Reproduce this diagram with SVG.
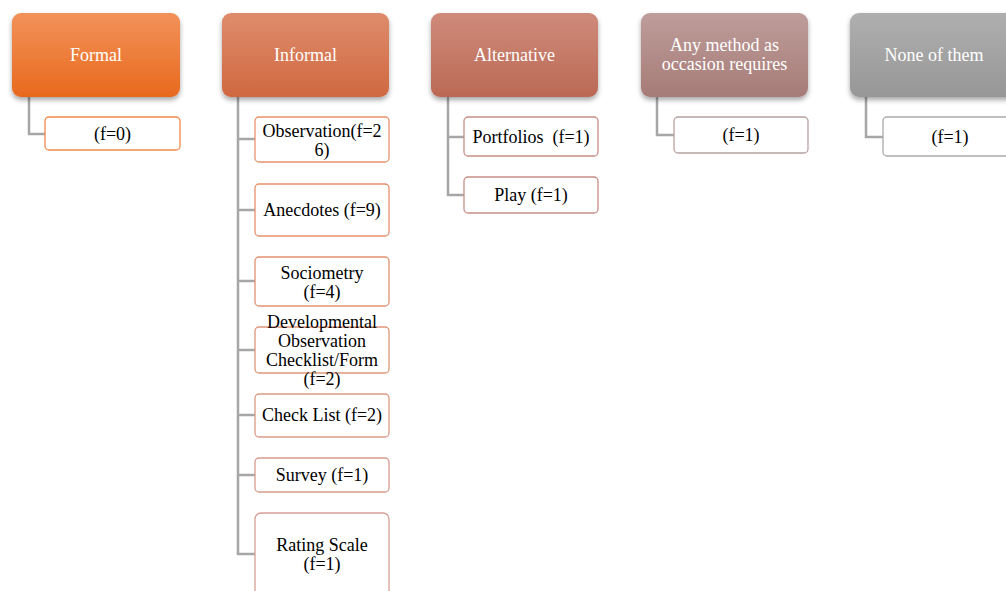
<svg xmlns="http://www.w3.org/2000/svg" width="1006" height="591" viewBox="0 0 1006 591">
<style>
.hdr{stroke:none}
.ht{font-family:"Liberation Serif","Times New Roman",serif;font-size:18px;fill:#ffffff;text-anchor:middle}
.ct{font-family:"Liberation Serif","Times New Roman",serif;font-size:18px;fill:#000000;text-anchor:middle}
.cb{fill:#ffffff;stroke-width:1.3}
.conn{fill:none;stroke:#A6A6A6;stroke-width:2.5}
</style>
<defs>
<linearGradient id="gF" x1="0" y1="0" x2="0" y2="1"><stop offset="0" stop-color="#F2925A"/><stop offset="1" stop-color="#E8691D"/></linearGradient>
<linearGradient id="gI" x1="0" y1="0" x2="0" y2="1"><stop offset="0" stop-color="#DF8C6C"/><stop offset="1" stop-color="#CF6840"/></linearGradient>
<linearGradient id="gA" x1="0" y1="0" x2="0" y2="1"><stop offset="0" stop-color="#CF8B7B"/><stop offset="1" stop-color="#BB6955"/></linearGradient>
<linearGradient id="gM" x1="0" y1="0" x2="0" y2="1"><stop offset="0" stop-color="#BE9D9A"/><stop offset="1" stop-color="#A67B77"/></linearGradient>
<linearGradient id="gN" x1="0" y1="0" x2="0" y2="1"><stop offset="0" stop-color="#AFAFAF"/><stop offset="1" stop-color="#979797"/></linearGradient>
<filter id="sh" x="-10%" y="-10%" width="120%" height="130%"><feDropShadow dx="0" dy="3" stdDeviation="2.5" flood-color="#000000" flood-opacity="0.35"/></filter>
</defs>

<g id="connectors">
<path class="conn" d="M29 97 V134 H45"/>
<path class="conn" d="M238 97 V554 H255 M238 139 H255 M238 210 H255 M238 281 H255 M238 350 H255 M238 415 H255 M238 475 H255"/>
<path class="conn" d="M448 97 V195 H464 M448 137 H464"/>
<path class="conn" d="M657 97 V135 H674"/>
<path class="conn" d="M866 97 V137 H883"/>
</g>

<g id="formal">
<rect class="hdr" x="12" y="13" width="168" height="84" rx="9" fill="url(#gF)" filter="url(#sh)"/>
<text class="ht" x="96" y="61">Formal</text>
</g>
<g id="informal">
<rect class="hdr" x="222" y="13" width="167" height="84" rx="9" fill="url(#gI)" filter="url(#sh)"/>
<text class="ht" x="305.5" y="61">Informal</text>
</g>
<g id="alternative">
<rect class="hdr" x="431" y="13" width="167" height="84" rx="9" fill="url(#gA)" filter="url(#sh)"/>
<text class="ht" x="514.5" y="61">Alternative</text>
</g>
<g id="anymethod">
<rect class="hdr" x="641" y="13" width="167" height="84" rx="9" fill="url(#gM)" filter="url(#sh)"/>
<text class="ht" x="724.5" y="51">Any method as</text>
<text class="ht" x="724.5" y="70">occasion requires</text>
</g>
<g id="none">
<rect class="hdr" x="850" y="13" width="168" height="84" rx="9" fill="url(#gN)" filter="url(#sh)"/>
<text class="ht" x="934" y="61">None of them</text>
</g>

<g id="formal-f0">
<rect class="cb" x="45" y="117" width="135" height="33" rx="4" stroke="#F0894A"/>
<text class="ct" x="112.5" y="139.5">(f=0)</text>
</g>

<g id="observation">
<rect class="cb" x="255" y="117" width="134" height="45" rx="4" stroke="#E8936A"/>
<text class="ct" x="322" y="137">Observation(f=2</text>
<text class="ct" x="322" y="156">6)</text>
</g>
<g id="anecdotes">
<rect class="cb" x="255" y="184" width="134" height="52" rx="4" stroke="#E6916C"/>
<text class="ct" x="322" y="216">Anecdotes (f=9)</text>
</g>
<g id="sociometry">
<rect class="cb" x="255" y="257" width="134" height="49" rx="4" stroke="#E39272"/>
<text class="ct" x="322" y="279">Sociometry</text>
<text class="ct" x="322" y="298">(f=4)</text>
</g>
<g id="developmental">
<rect class="cb" x="255" y="327" width="134" height="46" rx="4" stroke="#DF967C"/>
<text class="ct" x="322" y="328">Developmental</text>
<text class="ct" x="322" y="347">Observation</text>
<text class="ct" x="322" y="366">Checklist/Form</text>
<text class="ct" x="322" y="385">(f=2)</text>
</g>
<g id="checklist">
<rect class="cb" x="255" y="394" width="134" height="43" rx="4" stroke="#DB9A86"/>
<text class="ct" x="322" y="421">Check List (f=2)</text>
</g>
<g id="survey">
<rect class="cb" x="255" y="458" width="134" height="34" rx="4" stroke="#D89C8C"/>
<text class="ct" x="322" y="481">Survey (f=1)</text>
</g>
<g id="ratingscale">
<rect class="cb" x="255" y="513" width="134" height="90" rx="6" stroke="#D6A096"/>
<text class="ct" x="322" y="551">Rating Scale</text>
<text class="ct" x="322" y="570">(f=1)</text>
</g>

<g id="portfolios">
<rect class="cb" x="464" y="117" width="134" height="39" rx="4" stroke="#C98F86"/>
<text class="ct" x="531" y="143" xml:space="preserve">Portfolios  (f=1)</text>
</g>
<g id="play">
<rect class="cb" x="464" y="177" width="134" height="36" rx="4" stroke="#C98F86"/>
<text class="ct" x="531" y="201">Play (f=1)</text>
</g>

<g id="anymethod-f1">
<rect class="cb" x="674" y="117" width="134" height="36" rx="4" stroke="#B7A3A2"/>
<text class="ct" x="741" y="141">(f=1)</text>
</g>

<g id="none-f1">
<rect class="cb" x="883" y="117" width="134" height="39" rx="4" stroke="#ABABAB"/>
<text class="ct" x="950" y="143">(f=1)</text>
</g>
</svg>
